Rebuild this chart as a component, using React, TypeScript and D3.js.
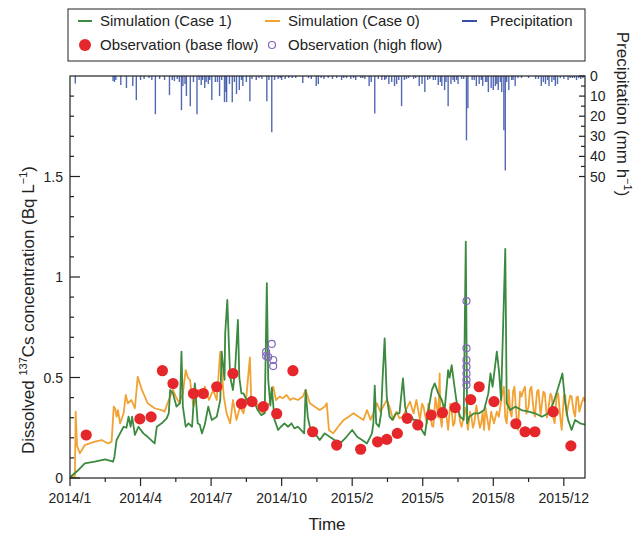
import React from 'react';
import * as d3 from 'd3';

// day index (0 = 2014/1/1) and value pairs
const case1: [number, number][] = [
  [0, 0], [2, 0.01], [12, 0.04], [21, 0.073], [35, 0.081], [50, 0.093], [61, 0.081], [63, 0.106], [66, 0.189],
  [71, 0.222], [76, 0.255], [80, 0.25], [83, 0.305], [86, 0.255], [88, 0.305], [92, 0.214], [97, 0.255],
  [104, 0.222], [110, 0.205], [120, 0.172], [123, 0.255], [130, 0.272], [137, 0.297], [140, 0.322], [142, 0.438],
  [146, 0.421], [151, 0.355], [156, 0.372], [158, 0.629], [160, 0.355], [164, 0.255], [168, 0.272], [173, 0.255],
  [177, 0.471], [181, 0.272], [184, 0.265], [187, 0.222], [191, 0.265], [196, 0.355], [201, 0.289], [208, 0.305],
  [213, 0.388], [215, 0.629], [219, 0.488], [220, 0.72], [223, 0.886], [225, 0.687], [227, 0.504], [231, 0.438],
  [234, 0.537], [238, 0.786], [240, 0.5], [243, 0.421], [246, 0.421], [250, 0.388], [257, 0.405], [262, 0.372],
  [266, 0.338], [271, 0.313], [276, 0.322], [279, 0.97], [281, 0.488], [284, 0.36], [286, 0.45], [290, 0.289],
  [295, 0.239], [299, 0.255], [304, 0.272], [309, 0.255], [314, 0.272], [318, 0.247], [323, 0.255], [332, 0.222],
  [334, 0.438], [337, 0.305], [341, 0.239], [347, 0.222], [354, 0.189], [361, 0.222], [368, 0.205], [375, 0.189],
  [383, 0.172], [392, 0.205], [400, 0.239], [407, 0.205], [414, 0.189], [421, 0.172], [428, 0.222], [430, 0.272],
  [432, 0.46], [434, 0.272], [438, 0.255], [441, 0.322], [443, 0.488], [446, 0.695], [449, 0.405], [453, 0.305],
  [457, 0.289], [462, 0.322], [467, 0.322], [472, 0.496], [475, 0.355], [479, 0.289], [484, 0.305], [487, 0.289],
  [491, 0.289], [496, 0.255], [503, 0.214], [508, 0.338], [513, 0.438], [517, 0.471], [522, 0.421], [527, 0.388],
  [531, 0.338], [536, 0.537], [538, 0.5], [541, 0.562], [545, 0.454], [549, 0.355], [553, 0.305], [558, 0.289],
  [561, 1.176], [563, 0.272], [566, 0.305], [573, 0.322], [580, 0.322], [587, 0.338], [593, 0.421], [596, 0.52],
  [599, 0.454], [605, 0.629], [608, 0.537], [611, 0.388], [617, 1.14], [619, 0.372], [624, 0.338], [631, 0.355],
  [640, 0.338], [650, 0.33], [659, 0.322], [669, 0.305], [678, 0.322], [685, 0.372], [691, 0.438], [698, 0.52],
  [702, 0.372], [706, 0.289], [711, 0.239], [716, 0.289], [723, 0.272], [730, 0.265],
];

const case0: [number, number][] = [
  [0, 0], [7, 0.01], [8, 0.33], [10, 0.16], [14, 0.123], [21, 0.164], [35, 0.181], [45, 0.189], [54, 0.172],
  [59, 0.181], [62, 0.355], [64, 0.347], [66, 0.305], [68, 0.338], [71, 0.272], [76, 0.322], [79, 0.413],
  [82, 0.372], [87, 0.388], [92, 0.347], [96, 0.504], [102, 0.438], [110, 0.372], [120, 0.347], [130, 0.338],
  [134, 0.33], [140, 0.388], [146, 0.438], [150, 0.405], [155, 0.372], [160, 0.421], [164, 0.537], [167, 0.5],
  [170, 0.488], [175, 0.355], [182, 0.438], [187, 0.405], [191, 0.455], [197, 0.388], [203, 0.438], [208, 0.388],
  [213, 0.629], [218, 0.405], [222, 0.322], [227, 0.272], [231, 0.388], [236, 0.289], [241, 0.355], [246, 0.322],
  [250, 0.405], [255, 0.6], [257, 0.372], [262, 0.388], [269, 0.338], [274, 0.322], [277, 0.355], [283, 0.372],
  [288, 0.455], [292, 0.388], [297, 0.405], [302, 0.397], [307, 0.413], [312, 0.388], [316, 0.397], [323, 0.388],
  [330, 0.405], [334, 0.438], [340, 0.372], [347, 0.355], [354, 0.338], [361, 0.355], [364, 0.372], [367, 0.239],
  [373, 0.222], [380, 0.255], [388, 0.289], [395, 0.305], [402, 0.322], [409, 0.305], [416, 0.289], [421, 0.338],
  [426, 0.289], [430, 0.322], [435, 0.372], [440, 0.33], [444, 0.355], [449, 0.388], [453, 0.355], [458, 0.289],
  [463, 0.33], [467, 0.297], [472, 0.305], [476, 0.338], [482, 0.38], [487, 0.322], [491, 0.388], [496, 0.289],
  [499, 0.37], [501, 0.355], [504, 0.3], [506, 0.272], [508, 0.37], [510, 0.338], [513, 0.26], [515, 0.255],
  [518, 0.4], [520, 0.355], [522, 0.3], [524, 0.52], [525, 0.3], [527, 0.255], [529, 0.36], [531, 0.322],
  [534, 0.3], [536, 0.239], [539, 0.37], [541, 0.338], [543, 0.26], [545, 0.272], [548, 0.38], [550, 0.355],
  [553, 0.28], [555, 0.255], [558, 0.305], [561, 0.35], [564, 0.239], [567, 0.33], [569, 0.305], [571, 0.25],
  [573, 0.272], [576, 0.36], [578, 0.313], [581, 0.25], [583, 0.272], [585, 0.33], [587, 0.239], [589, 0.35],
  [591, 0.305], [594, 0.239], [597, 0.33], [599, 0.3], [601, 0.272], [605, 0.33], [608, 0.305], [612, 0.405],
  [615, 0.454], [617, 0.3], [619, 0.272], [622, 0.438], [624, 0.33], [626, 0.305], [628, 0.43], [630, 0.454],
  [633, 0.3], [635, 0.239], [638, 0.43], [640, 0.405], [643, 0.44], [645, 0.454], [647, 0.32], [650, 0.355],
  [652, 0.44], [654, 0.454], [657, 0.34], [659, 0.305], [662, 0.43], [664, 0.438], [667, 0.31], [669, 0.372],
  [671, 0.43], [673, 0.421], [676, 0.3], [678, 0.338], [681, 0.42], [683, 0.405], [685, 0.3], [687, 0.272],
  [690, 0.42], [692, 0.421], [695, 0.3], [697, 0.239], [700, 0.41], [702, 0.413], [704, 0.31], [706, 0.355],
  [709, 0.41], [711, 0.405], [714, 0.33], [716, 0.305], [718, 0.4], [720, 0.405], [722, 0.33], [725, 0.372],
  [728, 0.4], [730, 0.38],
];

const obsBase: [number, number][] = [
  [23, 0.214], [99, 0.294], [115, 0.304], [131, 0.534], [146, 0.47], [175, 0.42], [189, 0.42], [208, 0.454],
  [231, 0.52], [243, 0.37], [258, 0.38], [274, 0.355], [293, 0.32], [316, 0.534], [344, 0.23], [378, 0.164],
  [412, 0.143], [436, 0.18], [449, 0.192], [464, 0.222], [478, 0.297], [493, 0.264], [512, 0.313], [528, 0.325],
  [546, 0.35], [568, 0.39], [580, 0.454], [601, 0.38], [632, 0.27], [645, 0.23], [659, 0.23], [685, 0.33],
  [710, 0.16],
];

const obsHigh: [number, number][] = [
  [278, 0.627], [286, 0.667], [281, 0.602], [288, 0.587], [288, 0.557], [278, 0.607],
  [562, 0.88], [562, 0.645], [562, 0.587], [562, 0.554], [562, 0.52], [562, 0.488], [562, 0.463],
];

// hourly precipitation peaks, mm/h
const precip: [number, number][] = [
  [7.5, 3.7], [61, 2.5], [63, 3], [65, 2], [72, 4.5], [80, 6], [89, 5], [94, 12], [100, 2], [105, 1.5], [112, 1],
  [116, 2], [121, 19], [127, 1.5], [134, 2], [141, 9.5], [145, 2], [148, 2.5], [152, 1.5], [155, 3], [158, 17],
  [160, 5], [163, 4], [165, 10], [170.5, 15], [175, 3], [180, 19], [183, 2], [186, 4.5], [188, 2], [191, 6],
  [193, 3], [196, 4], [198, 2], [201, 12], [206, 3], [209, 3], [212, 10], [215, 2], [219, 13], [221, 8], [222, 13],
  [226, 4], [230, 13], [233, 3], [236, 9], [240, 7], [243, 2], [245, 5], [250, 3], [255, 12.5], [258, 1.5],
  [264, 2], [268, 1], [272, 1.5], [279, 12.5], [282, 2], [286, 28], [290, 2], [295, 1.5], [298, 1], [300, 2],
  [305, 1.5], [310, 1], [315, 1], [320, 1], [330, 3.5], [338, 1], [342, 1.5], [349, 5], [352, 4], [356, 1],
  [360, 1.5], [366, 1], [372, 1.5], [378, 1], [385, 2], [388, 1], [392, 1], [398, 1.5], [402, 1], [405, 2],
  [412, 1], [415, 1], [418, 1.5], [424, 5], [427, 3], [432, 18.7], [437, 1.5], [442, 2], [446, 2], [448, 1.5],
  [452, 4], [456, 3], [460, 5], [463, 4], [466, 2], [470, 15], [474, 2], [477, 1.5], [480, 1], [487, 1.5],
  [490, 1], [495, 5], [499, 4], [503, 8], [507, 2], [510, 1.5], [515, 2], [518, 2], [522, 4.5], [525, 3], [527, 5],
  [531, 7], [533, 3], [536, 15], [540, 4], [543, 2], [545, 3], [548, 2], [550, 4], [555, 1.5], [558, 1.5],
  [562, 32], [564, 16], [570, 2], [573, 2], [576, 5], [580, 4], [583, 2], [585, 5], [589, 3], [591, 3], [593, 8],
  [597, 6], [600, 7], [603, 5], [605, 4], [607, 7], [610, 3], [612, 8], [615, 27], [617, 47], [619, 3], [622, 7],
  [626, 2], [628, 2], [631, 5], [635, 1], [640, 1], [650, 1], [660, 1.5], [664, 1.5], [668, 5], [671, 3],
  [674, 4], [677, 2], [679, 5], [683, 3], [686, 2], [688, 5], [691, 4], [695, 1], [700, 1.5], [706, 2], [709, 1],
  [712, 1], [715, 1], [718, 2], [721, 1], [724, 1.5], [727, 1],
];

const xLabels = ['2014/1', '2014/4', '2014/7', '2014/10', '2015/2', '2015/5', '2015/8', '2015/12'];
const xLabelDays = [0, 100, 200, 300, 400, 500, 600, 700];
const yLabels = ['0', '0.5', '1', '1.5'];
const precipLabels = ['0', '10', '20', '30', '40', '50'];

const GREEN = '#3b8a3f';
const ORANGE = '#f2a233';
const RED = '#e5262b';
const PURPLE = '#8466bd';
const BLUE = '#3550a6';
const FONT = '"Liberation Sans", Arial, sans-serif';

export default function App() {
  const L = 70, R = 585, T = 76, B = 478;
  const x = d3.scaleLinear().domain([0, 730]).range([L, R]);
  const y = d3.scaleLinear().domain([0, 2]).range([B, T]);
  const yP = d3.scaleLinear().domain([0, 200]).range([T, B]);
  const line = d3.line<[number, number]>().x(d => x(d[0])).y(d => y(d[1]));

  const minorX = d3.range(50, 730, 100);
  const minorY = d3.range(0.1, 2, 0.1).filter(v => Math.abs(v * 2 - Math.round(v * 2)) > 0.01);
  const minorP = d3.range(5, 50, 10);

  return (
    <svg width={643} height={533} style={{ position: 'absolute', left: 0, top: 0 }} fontFamily={FONT}>
      <defs>
        <clipPath id="plot"><rect x={L} y={T} width={R - L} height={B - T} /></clipPath>
      </defs>
      {/* legend */}
      <rect x={68} y={9} width={517} height={52} fill="none" stroke="#222" strokeWidth={1} />
      <g fontSize={15} fill="#222">
        <line x1={78} x2={92} y1={21} y2={21} stroke={GREEN} strokeWidth={2} />
        <text x={100} y={26}>Simulation (Case 1)</text>
        <line x1={265} x2={280} y1={21} y2={21} stroke={ORANGE} strokeWidth={2} />
        <text x={288} y={26}>Simulation (Case 0)</text>
        <line x1={462} x2={477} y1={21} y2={21} stroke={BLUE} strokeWidth={2} />
        <text x={490} y={26}>Precipitation</text>
        <circle cx={85} cy={45} r={6} fill={RED} />
        <text x={100} y={50}>Observation (base flow)</text>
        <circle cx={272} cy={45} r={3.5} fill="none" stroke={PURPLE} strokeWidth={1.2} />
        <text x={288} y={50}>Observation (high flow)</text>
      </g>

      <g clipPath="url(#plot)">
        <path d={line(case0) ?? ''} fill="none" stroke={ORANGE} strokeWidth={1.8} strokeLinejoin="round" />
        <path d={line(case1) ?? ''} fill="none" stroke={GREEN} strokeWidth={1.8} strokeLinejoin="round" />
        {precip.map((d, i) => (
          <line key={i} x1={x(d[0])} x2={x(d[0])} y1={yP(0)} y2={yP(d[1])} stroke={BLUE} strokeWidth={1.4} opacity={0.85} />
        ))}
      </g>
      {obsBase.map((d, i) => (
        <circle key={i} cx={x(d[0])} cy={y(d[1])} r={5.6} fill={RED} />
      ))}
      {obsHigh.map((d, i) => (
        <circle key={i} cx={x(d[0])} cy={y(d[1])} r={3.5} fill="none" stroke={PURPLE} strokeWidth={1.2} />
      ))}

      {/* frame */}
      <rect x={L} y={T} width={R - L} height={B - T} fill="none" stroke="#222" strokeWidth={1.2} />

      {/* bottom axis */}
      <g stroke="#222" strokeWidth={1.2}>
        {xLabelDays.map(d => <line key={d} x1={x(d)} x2={x(d)} y1={B} y2={B + 8} />)}
        {minorX.map(d => <line key={d} x1={x(d)} x2={x(d)} y1={B} y2={B + 4} />)}
      </g>
      <g fontSize={14} fill="#222" textAnchor="middle">
        {xLabels.map((t, i) => <text key={t} x={x(xLabelDays[i])} y={503}>{t}</text>)}
      </g>
      <text x={327} y={530} fontSize={17} textAnchor="middle" fill="#222">Time</text>

      {/* left axis */}
      <g stroke="#222" strokeWidth={1.2}>
        {yLabels.map(t => <line key={t} x1={L} x2={L + 10} y1={y(+t)} y2={y(+t)} />)}
        {minorY.map(v => <line key={v} x1={L} x2={L + 4} y1={y(v)} y2={y(v)} />)}
      </g>
      <g fontSize={14} fill="#222" textAnchor="end">
        {yLabels.map(t => <text key={t} x={63} y={y(+t) + 5}>{t}</text>)}
      </g>
      <text transform="translate(34,310) rotate(-90)" fontSize={17} textAnchor="middle" fill="#222">
        Dissolved <tspan fontSize={11} dy={-7}>137</tspan><tspan dy={7}>Cs concentration (Bq L</tspan>
        <tspan fontSize={11} dy={-7}>−1</tspan><tspan dy={7}>)</tspan>
      </text>

      {/* right precipitation axis */}
      <g stroke="#222" strokeWidth={1.2}>
        {precipLabels.map(t => <line key={t} x1={R - 6} x2={R} y1={yP(+t)} y2={yP(+t)} />)}
        {minorP.map(v => <line key={v} x1={R - 4} x2={R} y1={yP(v)} y2={yP(v)} />)}
      </g>
      <g fontSize={14} fill="#222" textAnchor="start">
        {precipLabels.map(t => <text key={t} x={590} y={yP(+t) + 5}>{t}</text>)}
      </g>
      <text transform="translate(617,114) rotate(90)" fontSize={17} textAnchor="middle" fill="#222">
        Precipitation (mm h<tspan fontSize={11} dy={-7}>−1</tspan><tspan dy={7}>)</tspan>
      </text>
    </svg>
  );
}
